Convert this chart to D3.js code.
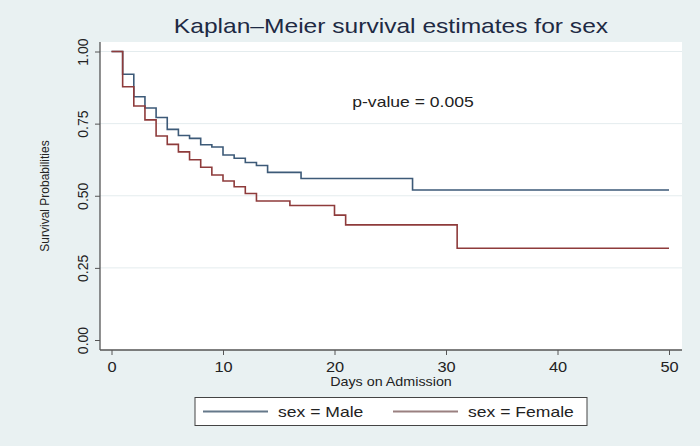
<!DOCTYPE html>
<html>
<head>
<meta charset="utf-8">
<script src="https://cdn.jsdelivr.net/npm/d3@7"></script>
<style>
  body { margin: 0; background: #e9f1f2; }
  svg { display: block; font-family: "Liberation Sans", Arial, sans-serif; }
</style>
</head>
<body>
<div id="chart"></div>
<script>
// Kaplan-Meier step curves
const maleTimes = [0, 1, 2, 3, 4, 5, 6, 7, 8, 9, 10, 11, 12, 13, 14, 17, 27, 50];
const maleSurv  = [1, 0.921, 0.843, 0.804, 0.771, 0.730, 0.709, 0.699, 0.677, 0.669, 0.641, 0.630, 0.615, 0.605, 0.581, 0.560, 0.520, 0.520];

const femaleTimes = [0, 1, 2, 3, 4, 5, 6, 7, 8, 9, 10, 11, 12, 13, 16, 20, 21, 31, 50];
const femaleSurv  = [1, 0.878, 0.811, 0.763, 0.707, 0.678, 0.652, 0.625, 0.599, 0.572, 0.551, 0.531, 0.508, 0.482, 0.466, 0.433, 0.399, 0.318, 0.318];

const xTicks = [0, 10, 20, 30, 40, 50];
const yTicks = [0, 0.25, 0.5, 0.75, 1];

const series = [
  { name: "sex = Male", times: maleTimes, surv: maleSurv, color: "#3d5a78", legend: "#65788a" },
  { name: "sex = Female", times: femaleTimes, surv: femaleSurv, color: "#8e3b3b", legend: "#9a8080" }
];

const W = 700, H = 446;
const STRETCH = 1.17; // the source picture is a bit wider than tall
const svg = d3.select("#chart").append("svg").attr("width", W).attr("height", H);

// widen horizontal text like in the original export
function widen(sel, f = STRETCH) {
  sel.each(function () {
    const len = this.getComputedTextLength();
    d3.select(this).attr("textLength", len * f).attr("lengthAdjust", "spacingAndGlyphs");
  });
  return sel;
}

svg.append("rect").attr("width", W).attr("height", H).attr("fill", "#e9f1f2");

// plot region
svg.append("rect")
  .attr("x", 100).attr("y", 42).attr("width", 582).attr("height", 308)
  .attr("fill", "#ffffff");

const x = d3.scaleLinear().domain([0, 50]).range([111.5, 669]);
const y = d3.scaleLinear().domain([0, 1]).range([340, 51.5]);

// gridlines
svg.append("g").selectAll("line")
  .data(yTicks.filter(d => d > 0))
  .enter().append("line")
  .attr("x1", 100).attr("x2", 682)
  .attr("y1", d => y(d)).attr("y2", d => y(d))
  .attr("stroke", "#e4ecee").attr("stroke-width", 1);

// axes
const gx = svg.append("g").attr("transform", "translate(0,350)")
  .call(d3.axisBottom(x).tickValues(xTicks).tickSize(5).tickPadding(4).tickFormat(d3.format("d")));
gx.select(".domain").attr("d", "M100,0H682");
const gy = svg.append("g").attr("transform", "translate(100,0)")
  .call(d3.axisLeft(y).tickValues(yTicks).tickSize(5).tickPadding(0).tickFormat(d3.format(".2f")));
gy.select(".domain").attr("d", "M0,42V350");

[gx, gy].forEach(g => {
  g.select(".domain").attr("stroke", "#555").attr("stroke-width", 1.3);
  g.selectAll(".tick line").attr("stroke", "#555");
  g.selectAll("text").attr("fill", "#222").attr("font-size", 14)
    .attr("font-family", "'Liberation Sans', Arial, sans-serif");
});
gx.selectAll("text").attr("dy", "0.9em");
widen(gx.selectAll(".tick text"));
gy.selectAll(".tick text")
  .attr("text-anchor", "middle")
  .attr("x", 0).attr("dy", 0)
  .attr("transform", "translate(-17,0) rotate(-90) translate(0,5)");

// step lines
const line = d3.line().curve(d3.curveStepAfter)
  .x(d => x(d[0])).y(d => y(d[1]));

series.forEach(s => {
  svg.append("path")
    .datum(s.times.map((t, i) => [t, s.surv[i]]))
    .attr("d", line)
    .attr("fill", "none")
    .attr("stroke", s.color)
    .attr("stroke-width", 1.6);
});

// title and labels
widen(svg.append("text").attr("x", 391).attr("y", 33)
  .attr("text-anchor", "middle").attr("font-size", 21).attr("fill", "#1e2a44")
  .text("Kaplan\u2013Meier survival estimates for sex"));

widen(svg.append("text").attr("x", 413).attr("y", 107)
  .attr("text-anchor", "middle").attr("font-size", 15).attr("fill", "#222")
  .text("p-value = 0.005"));

widen(svg.append("text").attr("x", 391).attr("y", 386)
  .attr("text-anchor", "middle").attr("font-size", 13).attr("fill", "#222")
  .text("Days on Admission"), 1.1);

svg.append("text")
  .attr("transform", "translate(49,196) rotate(-90)")
  .attr("text-anchor", "middle").attr("font-size", 12).attr("fill", "#222")
  .text("Survival Probabilities");

// legend
svg.append("rect").attr("x", 195).attr("y", 397.5).attr("width", 392).attr("height", 28)
  .attr("fill", "#ffffff").attr("stroke", "#444").attr("stroke-width", 1);

const legendX = [203, 393];
series.forEach((s, i) => {
  svg.append("line")
    .attr("x1", legendX[i]).attr("x2", legendX[i] + 65)
    .attr("y1", 411.5).attr("y2", 411.5)
    .attr("stroke", s.legend).attr("stroke-width", 2);
  widen(svg.append("text")
    .attr("x", legendX[i] + 75).attr("y", 417)
    .attr("font-size", 15).attr("fill", "#222")
    .text(s.name));
});
</script>
</body>
</html>
